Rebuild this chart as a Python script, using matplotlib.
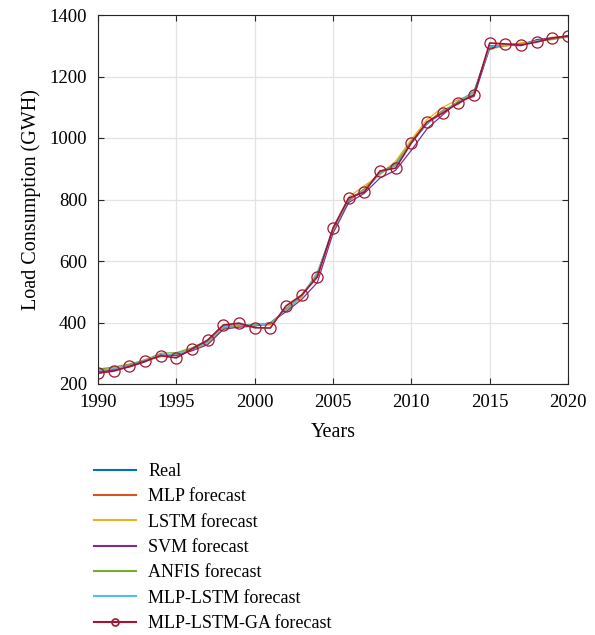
import matplotlib
matplotlib.use("Agg")
import matplotlib.pyplot as plt
from matplotlib.lines import Line2D

plt.rcParams['font.family'] = ['Liberation Serif', 'DejaVu Serif']

years = list(range(1990, 2021))

real = [245, 250, 260, 278, 290, 298, 312, 335, 385, 390, 392, 398, 440, 485, 560,
        700, 800, 830, 885, 915, 985, 1045, 1085, 1115, 1150, 1295, 1300, 1305, 1315, 1325, 1330]
mlp = [240, 248, 262, 275, 292, 295, 315, 338, 388, 393, 390, 393, 445, 488, 555,
       705, 795, 835, 890, 910, 990, 1050, 1090, 1110, 1148, 1300, 1303, 1306, 1318, 1322, 1333]
lstm = [250, 252, 258, 280, 288, 300, 310, 332, 380, 388, 395, 396, 438, 482, 565,
        695, 808, 845, 880, 925, 995, 1060, 1100, 1125, 1145, 1290, 1298, 1310, 1312, 1328, 1328]
svm = [238, 245, 255, 272, 295, 292, 308, 328, 378, 385, 388, 400, 435, 475, 530,
       690, 790, 820, 870, 895, 960, 1030, 1075, 1120, 1135, 1292, 1302, 1300, 1320, 1326, 1331]
anfis = [248, 255, 265, 278, 300, 302, 318, 342, 383, 390, 393, 398, 442, 490, 558,
         700, 802, 832, 888, 918, 988, 1048, 1088, 1118, 1152, 1296, 1304, 1307, 1314, 1320, 1329]
mlp_lstm = [243, 250, 259, 277, 293, 297, 313, 336, 386, 392, 391, 397, 441, 486, 562,
            702, 801, 829, 884, 912, 983, 1046, 1084, 1116, 1149, 1297, 1301, 1304, 1316, 1324, 1331]
mlp_lstm_ga = [235, 242, 257, 274, 292, 285, 314, 343, 392, 398, 383, 382, 454, 489, 548,
               707, 805, 824, 893, 902, 984, 1052, 1081, 1114, 1140, 1309, 1306, 1302, 1312, 1325, 1332]

series = [
    ("Real", real, "#0072BD"),
    ("MLP forecast", mlp, "#D95319"),
    ("LSTM forecast", lstm, "#EDB120"),
    ("SVM forecast", svm, "#7E2F8E"),
    ("ANFIS forecast", anfis, "#77AC30"),
    ("MLP-LSTM forecast", mlp_lstm, "#4DBEEE"),
]
ga_color = "#A2142F"

fig = plt.figure(figsize=(5.95, 6.35), dpi=100)
ax = fig.add_axes([98 / 595, 1 - 384 / 635, 470 / 595, 369 / 635])

for label, vals, color in series:
    ax.plot(years, vals, color=color, lw=0.9)
ax.plot(years, mlp_lstm_ga, color=ga_color, lw=1.2, marker='o', markersize=8,
        markerfacecolor='none', markeredgewidth=0.9)

ax.set_xlim(1990, 2020)
ax.set_ylim(200, 1400)
ax.set_xticks(range(1990, 2021, 5))
ax.set_yticks(range(200, 1401, 200))
ax.grid(True, color="#e3e3e3", lw=0.9)
ax.set_axisbelow(True)
ax.tick_params(direction='in', top=True, right=True, length=4, width=0.8,
               labelsize=13.5, colors="#262626", labelcolor="black")
ax.tick_params(axis='x', pad=7)
ax.tick_params(axis='y', pad=8)
for s in ax.spines.values():
    s.set_color("#262626")
    s.set_linewidth(0.8)
ax.set_xlabel("Years", fontsize=14.5, labelpad=9)
ax.set_ylabel("Load Consumption (GWH)", fontsize=14.5, labelpad=6)

handles = [Line2D([], [], color=c, lw=1.5) for _, _, c in series]
handles.append(Line2D([], [], color=ga_color, lw=1.5, marker='o', markersize=5,
                      markerfacecolor='none', markeredgewidth=1.2))
labels = [s[0] for s in series] + ["MLP-LSTM-GA forecast"]
fig.legend(handles, labels, loc='upper left', bbox_to_anchor=(94 / 595, 1 - 463 / 635),
           frameon=False, fontsize=13, handlelength=2.3, handletextpad=0.7,
           labelspacing=0.46, borderpad=0, borderaxespad=0)

fig.savefig("out.png", dpi=100)
